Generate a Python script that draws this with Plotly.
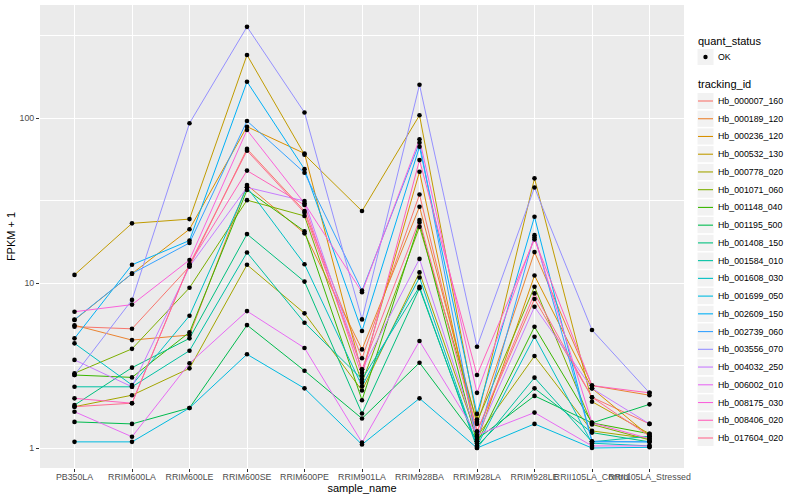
import plotly.graph_objects as go

samples = ["PB350LA", "RRIM600LA", "RRIM600LE", "RRIM600SE", "RRIM600PE", "RRIM901LA",
           "RRIM928BA", "RRIM928LA", "RRIM928LE", "RRII105LA_Control", "RRII105LA_Stressed"]

tracking_ids = ["Hb_000007_160", "Hb_000189_120", "Hb_000236_120", "Hb_000532_130", "Hb_000778_020",
                "Hb_001071_060", "Hb_001148_040", "Hb_001195_500", "Hb_001408_150", "Hb_001584_010",
                "Hb_001608_030", "Hb_001699_050", "Hb_002609_150", "Hb_002739_060", "Hb_003556_070",
                "Hb_004032_250", "Hb_006002_010", "Hb_008175_030", "Hb_008406_020", "Hb_017604_020"]

colors = ["#F8766D", "#EA8331", "#D89000", "#C09B00", "#A3A500", "#7CAE00", "#39B600", "#00BB4E",
          "#00BF7D", "#00C1A3", "#00BFC4", "#00BAE0", "#00B0F6", "#35A2FF", "#9590FF", "#C77CFF",
          "#E76BF3", "#FA62DB", "#FF62BC", "#FF6C91"]

quant_status = ["OK"]

# FPKM + 1 per tracking_id, in sample order
hb_000007_160 = [5.44, 5.28, 12.6, 65.0, 27.3, 3.5, 34.4, 1.26, 8.0, 2.03, 1.40]
hb_000189_120 = [5.55, 4.51, 4.84, 39.3, 20.0, 3.96, 29.0, 1.40, 15.4, 2.39, 2.09]
hb_000236_120 = [5.97, 11.4, 21.2, 88.6, 61.0, 2.86, 47.3, 1.10, 11.1, 2.30, 1.18]
hb_000532_130 = [11.2, 23.0, 24.4, 241.0, 60.0, 27.3, 104.0, 1.49, 43.1, 1.91, 1.22]
hb_000778_020 = [1.78, 2.09, 3.04, 12.9, 6.55, 2.23, 11.6, 1.17, 3.61, 1.27, 1.14]
hb_001071_060 = [2.84, 3.99, 9.36, 31.8, 25.5, 2.49, 21.9, 1.44, 9.5, 1.39, 1.12]
hb_001148_040 = [2.77, 2.68, 5.03, 36.6, 20.6, 1.95, 23.3, 1.07, 5.43, 1.42, 1.22]
hb_001195_500 = [1.44, 1.40, 1.75, 5.56, 2.94, 1.51, 3.29, 1.13, 2.07, 1.42, 1.84]
hb_001408_150 = [1.82, 3.07, 4.62, 19.8, 10.2, 1.62, 9.3, 1.03, 2.30, 1.24, 1.09]
hb_001584_010 = [2.35, 2.35, 3.89, 15.3, 5.75, 2.61, 9.5, 1.00, 2.67, 1.09, 1.18]
hb_001608_030 = [4.31, 2.41, 6.34, 38.0, 13.0, 2.37, 10.8, 1.03, 4.73, 1.07, 1.03]
hb_001699_050 = [1.09, 1.09, 1.75, 3.7, 2.30, 1.05, 2.00, 1.00, 1.40, 1.00, 1.01]
hb_002609_150 = [4.62, 12.9, 18.1, 166.0, 49.0, 5.12, 67.0, 1.61, 25.2, 1.09, 1.09]
hb_002739_060 = [6.0, 11.4, 17.5, 96.0, 46.6, 9.0, 70.8, 1.10, 19.5, 1.10, 1.09]
hb_003556_070 = [2.77, 7.9, 93.0, 357.0, 108.0, 6.02, 159.0, 4.11, 37.9, 5.19, 2.16]
hb_004032_250 = [3.42, 2.35, 12.6, 38.0, 31.4, 2.99, 14.0, 1.17, 7.18, 2.30, 1.40]
hb_006002_010 = [1.66, 1.17, 3.26, 6.76, 4.04, 1.08, 4.45, 1.20, 1.64, 1.03, 1.03]
hb_008175_030 = [6.7, 7.4, 13.8, 84.6, 30.4, 8.8, 74.3, 2.16, 18.9, 1.42, 1.14]
hb_008406_020 = [2.0, 1.87, 13.0, 48.0, 29.7, 2.73, 55.6, 2.77, 18.4, 2.39, 2.16]
hb_017604_020 = [1.78, 1.87, 13.0, 63.4, 26.7, 3.0, 24.1, 1.26, 8.65, 2.03, 1.18]

series = [hb_000007_160, hb_000189_120, hb_000236_120, hb_000532_130, hb_000778_020,
          hb_001071_060, hb_001148_040, hb_001195_500, hb_001408_150, hb_001584_010,
          hb_001608_030, hb_001699_050, hb_002609_150, hb_002739_060, hb_003556_070,
          hb_004032_250, hb_006002_010, hb_008175_030, hb_008406_020, hb_017604_020]

y_ticks = [1, 10, 100]
y_minor = [3.1623, 31.623, 316.23]

FONT = "Liberation Sans, Arial, sans-serif"

W, H = 800, 500
ML, MR, MT, MB = 40, 116, 5, 32
PW, PH = W - ML - MR, H - MT - MB


def px(x):
    return (x - ML) / PW


def py(y):
    return (H - MB - y) / PH


fig = go.Figure()
for tid, vals, col in zip(tracking_ids, series, colors):
    fig.add_trace(go.Scatter(
        x=samples, y=vals, mode="lines", name=tid,
        line=dict(color=col, width=1), hoverinfo="skip", showlegend=False))

all_x, all_y = [], []
for vals in series:
    all_x += samples
    all_y += vals
fig.add_trace(go.Scatter(
    x=all_x, y=all_y, mode="markers", name=quant_status[0],
    marker=dict(color="black", size=4.6), showlegend=False))

# ---- manual ggplot-style legend ----
shapes, annots = [], []
KX0, KX1 = 697, 714
KEY_BG = "#F2F2F2"


def title(text, y):
    annots.append(dict(text=text, x=px(KX0 - 1), y=py(y), xref="paper", yref="paper",
                       xanchor="left", yanchor="middle", showarrow=False,
                       font=dict(size=11, color="black", family=FONT)))


def label(text, y):
    annots.append(dict(text=text, x=px(716), y=py(y), xref="paper", yref="paper",
                       xanchor="left", yanchor="middle", showarrow=False,
                       font=dict(size=8.8, color="black", family=FONT)))


def keybox(yc):
    shapes.append(dict(type="rect", xref="paper", yref="paper",
                       x0=px(KX0), x1=px(KX1), y0=py(yc - 8.6), y1=py(yc + 8.6),
                       fillcolor=KEY_BG, line=dict(color="white", width=1), layer="above"))


title("quant_status", 41)
keybox(57)
shapes.append(dict(type="circle", xref="paper", yref="paper",
                   x0=px(705.5 - 2.2), x1=px(705.5 + 2.2), y0=py(57 - 2.2), y1=py(57 + 2.2),
                   fillcolor="black", line=dict(color="black", width=0), layer="above"))
label(quant_status[0], 57)

title("tracking_id", 84)
step = (438 - 101) / 19
for i, (tid, col) in enumerate(zip(tracking_ids, colors)):
    yc = 101 + i * step
    keybox(yc)
    shapes.append(dict(type="line", xref="paper", yref="paper",
                       x0=px(KX0 + 1), x1=px(KX1 - 1), y0=py(yc), y1=py(yc),
                       line=dict(color=col, width=1.1), layer="above"))
    label(tid, yc)

fig.update_layout(
    width=W, height=H,
    margin=dict(l=ML, r=MR, t=MT, b=MB, autoexpand=False),
    paper_bgcolor="white", plot_bgcolor="#EBEBEB",
    font=dict(family=FONT, size=11, color="black"),
    showlegend=False,
    shapes=shapes, annotations=annots,
)
fig.update_xaxes(
    type="category", range=[-0.6, 10.6], tickangle=0,
    showgrid=True, gridcolor="white", gridwidth=1.1,
    ticks="outside", ticklen=3, tickcolor="#333333",
    tickfont=dict(size=8.8, color="#4D4D4D"), ticklabelstandoff=-3,
    title=dict(text="sample_name", font=dict(size=11), standoff=0),
    zeroline=False, showline=False, automargin=False)
fig.update_yaxes(
    type="log", range=[-0.121, 2.685],
    tickmode="array", tickvals=y_ticks, ticktext=[str(v) for v in y_ticks],
    showgrid=True, gridcolor="white", gridwidth=1.1,
    minor=dict(tickmode="array", tickvals=y_minor, showgrid=True,
               gridcolor="white", gridwidth=0.5, ticks=""),
    ticks="outside", ticklen=3, tickcolor="#333333",
    tickfont=dict(size=8.8, color="#4D4D4D"),
    title=dict(text="FPKM + 1", font=dict(size=11), standoff=1),
    zeroline=False, showline=False, automargin=False)

fig.write_html("out.html", config={"displayModeBar": False},
               post_script="document.body.style.margin='0px';document.body.style.overflow='hidden';")
